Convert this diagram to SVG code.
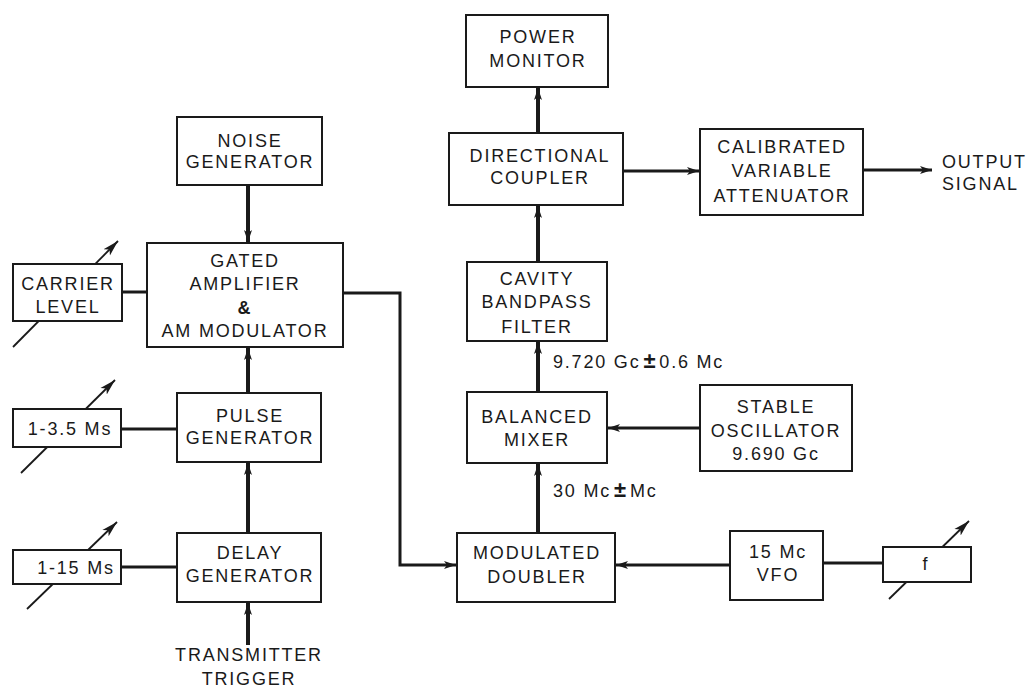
<svg xmlns="http://www.w3.org/2000/svg" width="1029" height="688" viewBox="0 0 1029 688">
<style>
  .box { fill: #fff; stroke: #1a1a1a; stroke-width: 2; }
  .t { font-family: "Liberation Sans", Arial, sans-serif; font-size: 18px; fill: #1a1a1a; text-anchor: middle; letter-spacing: 1.8px; }
  .tl { font-family: "Liberation Sans", Arial, sans-serif; font-size: 18px; fill: #1a1a1a; letter-spacing: 1.8px; }
  .pm { font-weight: bold; font-size: 22px; }
  .v { fill: none; stroke: #1a1a1a; stroke-width: 4; }
  .h { fill: none; stroke: #1a1a1a; stroke-width: 3; }
  .knob { fill: none; stroke: #1a1a1a; stroke-width: 1.8; }
</style>
<defs>
  <marker id="ah" markerUnits="userSpaceOnUse" markerWidth="14" markerHeight="10" refX="12" refY="5" orient="auto">
    <path d="M0,1 L12,5 L0,9 L3,5 Z" fill="#1a1a1a"/>
  </marker>
  <marker id="kh" markerUnits="userSpaceOnUse" markerWidth="18" markerHeight="12" refX="16" refY="6" orient="auto">
    <path d="M0,1.5 L16,6 L0,10.5 L4,6 Z" fill="#1a1a1a"/>
  </marker>
</defs>
<rect width="1029" height="688" fill="#fff"/>

<g id="knobs">
  <line class="knob" x1="13" y1="347" x2="118" y2="241" marker-end="url(#kh)"/>
  <line class="knob" x1="21" y1="473" x2="115" y2="380" marker-end="url(#kh)"/>
  <line class="knob" x1="27" y1="609" x2="117" y2="522" marker-end="url(#kh)"/>
  <line class="knob" x1="889" y1="599" x2="969" y2="521" marker-end="url(#kh)"/>
</g>

<g id="connectors">
  <line class="v" x1="248" y1="185" x2="248" y2="242" marker-end="url(#ah)"/>
  <line class="h" x1="122" y1="292" x2="147" y2="292"/>
  <line class="v" x1="248" y1="393" x2="248" y2="348" marker-end="url(#ah)"/>
  <line class="h" x1="121" y1="429" x2="177" y2="429"/>
  <line class="v" x1="248" y1="533" x2="248" y2="463" marker-end="url(#ah)"/>
  <line class="h" x1="121" y1="567" x2="177" y2="567"/>
  <line class="v" x1="248" y1="645" x2="248" y2="603" marker-end="url(#ah)"/>
  <polyline class="h" points="343,293 400,293 400,565 456,565" marker-end="url(#ah)"/>
  <line class="h" x1="730" y1="565" x2="616" y2="565" marker-end="url(#ah)"/>
  <line class="h" x1="883" y1="563" x2="823" y2="563"/>
  <line class="v" x1="538" y1="533" x2="538" y2="464" marker-end="url(#ah)"/>
  <line class="h" x1="700" y1="428" x2="608" y2="428" marker-end="url(#ah)"/>
  <line class="v" x1="538" y1="392" x2="538" y2="342" marker-end="url(#ah)"/>
  <line class="v" x1="538" y1="262" x2="538" y2="206" marker-end="url(#ah)"/>
  <line class="v" x1="538" y1="133" x2="538" y2="88" marker-end="url(#ah)"/>
  <line class="h" x1="623" y1="171" x2="699" y2="171" marker-end="url(#ah)"/>
  <line class="h" x1="863" y1="170" x2="932" y2="170" marker-end="url(#ah)"/>
</g>

<g id="noise-generator">
  <rect class="box" x="177" y="117" width="145" height="68"/>
  <text class="t" x="250" y="147">NOISE</text>
  <text class="t" x="250" y="168">GENERATOR</text>
</g>
<g id="gated-amplifier">
  <rect class="box" x="147" y="243" width="196" height="104"/>
  <text class="t" x="245" y="267">GATED</text>
  <text class="t" x="245" y="290">AMPLIFIER</text>
  <text class="t" x="245" y="314" font-weight="bold" font-size="20">&amp;</text>
  <text class="t" x="245" y="337">AM MODULATOR</text>
</g>
<g id="carrier-level">
  <rect class="box" x="13" y="264" width="109" height="57"/>
  <text class="t" x="68" y="290">CARRIER</text>
  <text class="t" x="68" y="313">LEVEL</text>
</g>
<g id="pulse-generator">
  <rect class="box" x="177" y="393" width="144" height="69"/>
  <text class="t" x="250" y="422">PULSE</text>
  <text class="t" x="250" y="444">GENERATOR</text>
</g>
<g id="pulse-width">
  <rect class="box" x="13" y="409" width="108" height="38"/>
  <text class="t" x="70" y="435">1-3.5 Ms</text>
</g>
<g id="delay-generator">
  <rect class="box" x="177" y="533" width="144" height="69"/>
  <text class="t" x="250" y="559">DELAY</text>
  <text class="t" x="250" y="582">GENERATOR</text>
</g>
<g id="delay-range">
  <rect class="box" x="13" y="550" width="108" height="34"/>
  <text class="t" x="76" y="574">1-15 Ms</text>
</g>
<g id="transmitter-trigger">
  <text class="t" x="249" y="661">TRANSMITTER</text>
  <text class="t" x="249" y="685">TRIGGER</text>
</g>
<g id="power-monitor">
  <rect class="box" x="466" y="15" width="142" height="72"/>
  <text class="t" x="538" y="43">POWER</text>
  <text class="t" x="538" y="67">MONITOR</text>
</g>
<g id="directional-coupler">
  <rect class="box" x="449" y="133" width="174" height="72"/>
  <text class="t" x="540" y="162">DIRECTIONAL</text>
  <text class="t" x="540" y="184">COUPLER</text>
</g>
<g id="attenuator">
  <rect class="box" x="700" y="129" width="163" height="86"/>
  <text class="t" x="782" y="153">CALIBRATED</text>
  <text class="t" x="782" y="177">VARIABLE</text>
  <text class="t" x="782" y="202">ATTENUATOR</text>
</g>
<g id="output-signal">
  <text class="tl" x="942" y="168">OUTPUT</text>
  <text class="tl" x="942" y="190">SIGNAL</text>
</g>
<g id="cavity-filter">
  <rect class="box" x="467" y="262" width="140" height="79"/>
  <text class="t" x="537" y="285">CAVITY</text>
  <text class="t" x="537" y="308">BANDPASS</text>
  <text class="t" x="537" y="333">FILTER</text>
</g>
<g id="label-9720">
  <text class="tl" x="553" y="368">9.720 Gc<tspan class="pm" dx="3">±</tspan><tspan dx="2">0.6 Mc</tspan></text>
</g>
<g id="balanced-mixer">
  <rect class="box" x="467" y="392" width="140" height="71"/>
  <text class="t" x="537" y="423">BALANCED</text>
  <text class="t" x="537" y="446">MIXER</text>
</g>
<g id="stable-oscillator">
  <rect class="box" x="700" y="385" width="152" height="86"/>
  <text class="t" x="776" y="413">STABLE</text>
  <text class="t" x="776" y="437">OSCILLATOR</text>
  <text class="t" x="776" y="460">9.690 Gc</text>
</g>
<g id="label-30">
  <text class="tl" x="553" y="497">30 Mc<tspan class="pm" dx="3">±</tspan><tspan dx="2">Mc</tspan></text>
</g>
<g id="modulated-doubler">
  <rect class="box" x="457" y="533" width="158" height="69"/>
  <text class="t" x="537" y="559">MODULATED</text>
  <text class="t" x="537" y="583">DOUBLER</text>
</g>
<g id="vfo">
  <rect class="box" x="730" y="531" width="93" height="69"/>
  <text class="t" x="778" y="558">15 Mc</text>
  <text class="t" x="778" y="581">VFO</text>
</g>
<g id="f-control">
  <rect class="box" x="883" y="547" width="88" height="35"/>
  <text class="t" x="926" y="570">f</text>
</g>
</svg>
